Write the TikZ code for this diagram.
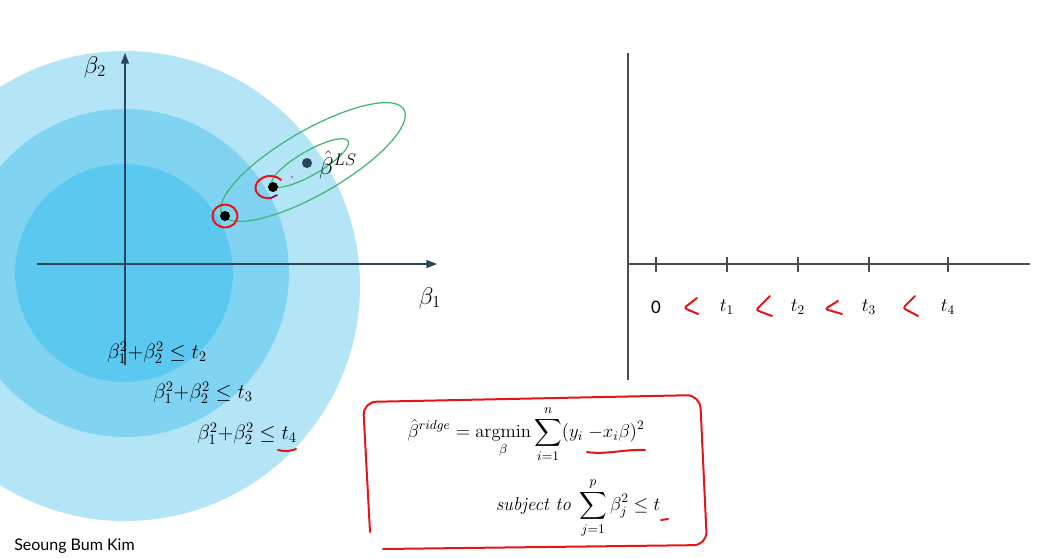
\RequirePackage{fix-cm}
\documentclass[tikz,border=0pt]{standalone}
\usepackage{exscale}
\usepackage{fontspec}
\newfontfamily\namefont{Lato}
\newfontfamily\tickfont{Carlito}
\usetikzlibrary{arrows.meta}
\definecolor{ringout}{RGB}{180,229,246}
\definecolor{ringmid}{RGB}{128,212,242}
\definecolor{ringin}{RGB}{91,201,239}
\definecolor{axisblue}{RGB}{40,70,90}
\definecolor{ellgreen}{RGB}{60,180,115}
\definecolor{inkred}{RGB}{230,20,20}
\tikzset{
  axisline/.style={axisblue,line width=1.1pt},
  plotline/.style={black!70,line width=1.1pt},
  pen/.style={inkred,line width=1.5pt,line cap=round,line join=round},
  dot/.style={circle,fill=black,inner sep=0pt,minimum size=7.5pt},
  cons/.style={font=\fontsize{15.5}{18}\selectfont,anchor=west,inner sep=0pt},
  tlabel/.style={font=\fontsize{14.4}{16}\selectfont,inner sep=0pt},
  ridge/.style={font=\fontsize{14}{17}\selectfont,inner sep=0pt}
}
\begin{document}
\begin{tikzpicture}[x=0.75pt,y=-0.75pt]
\useasboundingbox (0,0) rectangle (1049,557);
% constraint regions
\begin{scope}
\clip (0,0) rectangle (1049,557);
\fill[ringout] (125,286) circle (235);
\fill[ringmid] (125,273) circle (164);
\fill[ringin] (124,273) circle (109);
\end{scope}
% left axes
\coordinate (b1l) at (37,264);
\coordinate (b1r) at (437,264);
\coordinate (b2b) at (125,365);
\coordinate (b2t) at (125,53);
\draw[axisline,-{Triangle[length=8pt,width=6pt]}] (b1l) -- (b1r);
\draw[axisline,-{Triangle[length=8pt,width=6pt]}] (b2b) -- (b2t);
\node[font=\fontsize{18}{20}\selectfont] (b2lab) at (95,67) {$\beta_2$};
\node[font=\fontsize{18}{20}\selectfont] (b1lab) at (430,298) {$\beta_1$};
% loss contours
\draw[ellgreen,line width=0.9pt,rotate around={30:(313,162)}] (313,162) ellipse (105 and 32);
\draw[ellgreen,line width=0.9pt,rotate around={30:(310,163)}] (310,163) ellipse (44 and 12);
\node[dot,fill=axisblue] (bls) at (307,163) {};
\node[font=\fontsize{18}{20}\selectfont] (blslab) at (338,165) {$\hat{\beta}^{LS}$};
\fill[magenta] (292,177) circle (0.8);
\node[dot] (r1) at (225,216) {};
\node[dot] (r2) at (273,187) {};
\draw[pen] (r1) circle (12.5 and 11.5);
\draw[pen] (281,180) .. controls (270,170) and (252,180) .. (256,191) .. controls (258,197) and (266,199) .. (271,198);
\draw[violet,line width=1.2pt,line cap=round] (271,198) -- (277,195);
% constraint labels
\node[cons] (c2) at (107,353) {$\beta_1^2{+}\beta_2^2 \le t_2$};
\node[cons] (c3) at (153,393) {$\beta_1^2{+}\beta_2^2 \le t_3$};
\node[cons] (c4) at (197,434) {$\beta_1^2{+}\beta_2^2 \le t_4$};
\draw[pen] (278,450) .. controls (285,452) and (291,451) .. (296,449);
\node[font=\namefont\fontsize{12}{14}\selectfont,anchor=west,inner sep=0pt] (author) at (14,546) {Seoung Bum Kim};
% right axes
\coordinate (vb) at (628,380);
\coordinate (vt) at (628,53);
\coordinate (hl) at (628,264);
\coordinate (hr) at (1030,264);
\draw[plotline] (vb) -- (vt);
\draw[plotline] (hl) -- (hr);
\foreach \x/\lab in {656/{\tickfont 0},727/$t_1$,798/$t_2$,869/$t_3$,948/$t_4$}{
  \draw[plotline] (\x,257) -- (\x,272);
  \node[tlabel] at (\x,307) {\lab};
}
\draw[pen,rounded corners=2pt] (697,298) -- (684,308) -- (698,314);
\draw[pen,rounded corners=2pt] (770,296) -- (756,310) -- (772,316);
\draw[pen,rounded corners=2pt] (838,301) -- (825,309) -- (842,314);
\draw[pen,rounded corners=2pt] (915,296) -- (903,308) -- (918,316);
% ridge problem
\node[ridge] (obj) at (526,434) {$\displaystyle \hat{\beta}^{ridge} = \mathop{\mathrm{argmin}}_{\beta} \sum_{i=1}^{n} (y_i \;{-}x_i\beta)^2$};
\node[ridge] (subj) at (578,508) {$\displaystyle \textit{subject to}\;\sum_{j=1}^{p} \beta_j^2 \le t$};
\draw[pen] (587,452) .. controls (605,455) and (625,449) .. (645,450);
\draw[pen] (661,520) -- (668,519);
\draw[pen,rounded corners=10pt] (370,532) -- (363,402) -- (700,395) -- (707,545) -- (383,549);
\end{tikzpicture}
\end{document}
